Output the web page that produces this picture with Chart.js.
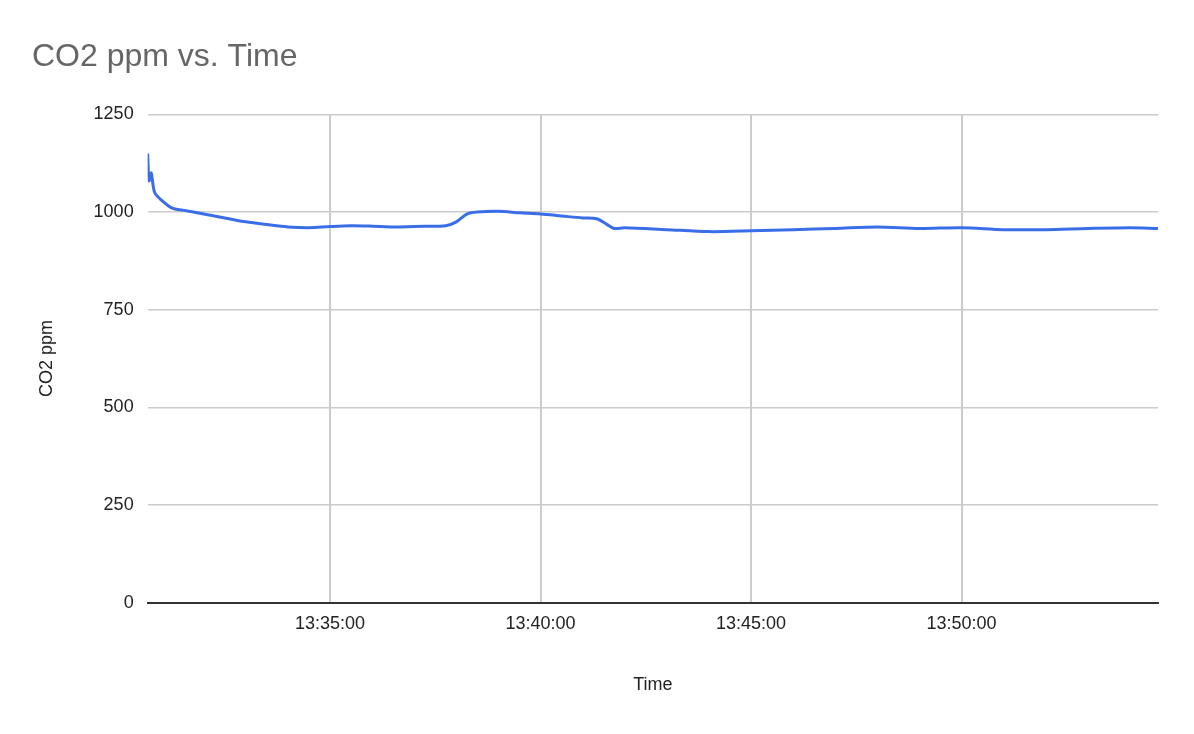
<!DOCTYPE html>
<html><head><meta charset="utf-8">
<script src="https://cdn.jsdelivr.net/npm/chart.js@4"></script>
<style>html,body{margin:0;padding:0;background:#fff}#w{width:1194px;height:734px}</style>
</head><body><div id="w"><canvas id="c"></canvas></div>
<script>
// times in seconds after 13:30:00
const times = [40,42,45,50,60,75,90,120,150,180,210,240,270,300,330,360,390,420,450,465,480,495,510,540,570,600,630,660,680,695,705,720,780,840,900,960,1020,1080,1140,1200,1260,1320,1380,1440,1480];
const co2 =   [1150,1080,1100,1050,1030,1010,1005,995,985,975,968,962,960,963,965,964,962,963,964,965,975,995,1000,1002,998,995,990,985,983,968,958,960,955,950,952,955,958,962,958,960,955,955,958,960,958];
const tickStep = 300;
function fmt(s){const m=30+Math.floor(s/60), sec=s%60;return '13:'+String(m).padStart(2,'0')+':'+String(sec).padStart(2,'0');}
const F='Liberation Sans, Arial';
new Chart(document.getElementById('c'),{
 type:'line',
 data:{datasets:[{data:times.map((t,i)=>({x:t,y:co2[i]})),borderColor:'#3a6ee8',borderWidth:3,pointRadius:0,tension:0.3}]},
 options:{responsive:true,maintainAspectRatio:false,animation:false,
  layout:{padding:{left:32,right:36,top:10,bottom:34}},
  plugins:{legend:{display:false},tooltip:{enabled:false},
   title:{display:true,text:'CO2 ppm vs. Time',align:'start',color:'#666',font:{family:F,size:32,weight:'normal'},padding:{top:28,bottom:38}}},
  scales:{
   x:{type:'linear',min:40,max:1480,
    afterBuildTicks:a=>{const t=[];for(let v=300;v<=1480;v+=tickStep)t.push({value:v});a.ticks=t;},
    ticks:{callback:v=>fmt(v),color:'#222',font:{family:F,size:18},padding:10,maxRotation:0},
    grid:{color:'#ccc',lineWidth:2,drawTicks:false},border:{display:true,color:'#333',width:2},
    title:{display:true,text:'Time',color:'#222',font:{family:F,size:18},padding:{top:30}}},
   y:{min:0,max:1250,ticks:{stepSize:250,callback:v=>String(v),color:'#222',font:{family:F,size:18},padding:14},
    grid:{color:'#ccc',lineWidth:1.5,drawTicks:false},border:{display:false},
    title:{display:true,text:'CO2 ppm',color:'#222',font:{family:F,size:18},padding:{bottom:22}}}
  }}
});
</script></body></html>
